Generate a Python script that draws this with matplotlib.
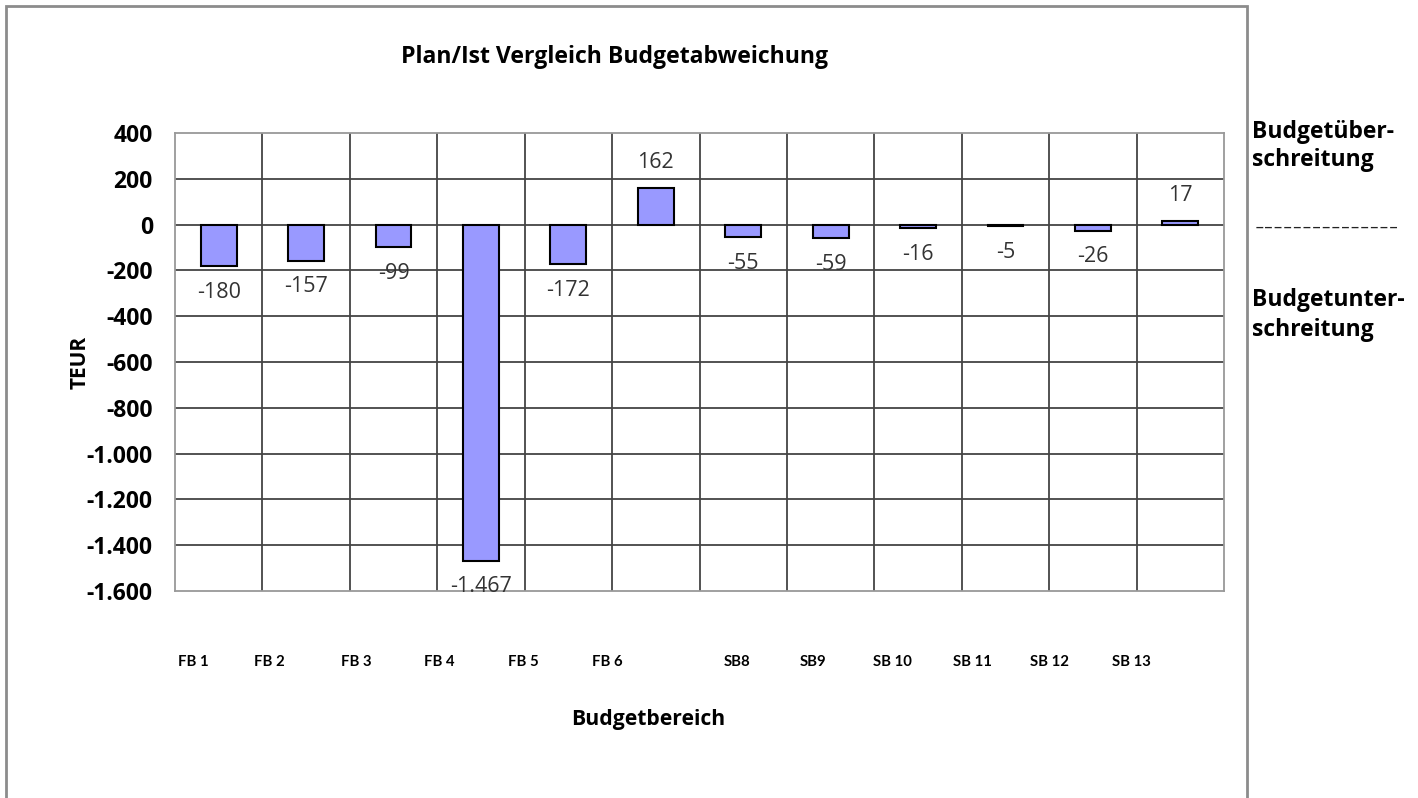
import matplotlib.pyplot as plt
from matplotlib.patches import Rectangle
from matplotlib.ticker import FuncFormatter

categories = ['FB 1', 'FB 2', 'FB 3', 'FB 4', 'FB 5', 'FB 6',
              'SB8', 'SB9', 'SB 10', 'SB 11', 'SB 12', 'SB 13']
values = [-180, -157, -99, -1467, -172, 162, -55, -59, -16, -5, -26, 17]

# x positions (pixels) of the category text boxes, as in the original
label_px = [193, 269, 356, 439, 523, 607, 737, 813, 892, 972, 1049, 1131]

W, H = 1418, 798
plt.rcParams['font.family'] = ['Open Sans', 'DejaVu Sans']

fig = plt.figure(figsize=(W / 100, H / 100), dpi=100)
ax = fig.add_axes([175 / W, 1 - 591 / H, (1224 - 175) / W, (591 - 133) / H])


def fmt(v):
    return '{:,.0f}'.format(v).replace(',', '.')


x = range(len(categories))
ax.bar(x, values, width=0.41, color='#9999ff', edgecolor='black', linewidth=1.5, zorder=3)

for i, v in enumerate(values):
    off = 18 if v > 0 else -19
    ax.annotate(fmt(v), (i, v), xytext=(0, off), textcoords='offset points',
                ha='center', va='center', fontsize=15.5, color='#333333', zorder=4)

ax.set_xlim(-0.5, len(categories) - 0.5)
ax.set_ylim(-1600, 400)
ax.set_yticks(range(-1600, 401, 200))
ax.yaxis.set_major_formatter(FuncFormatter(lambda v, p: fmt(v)))
ax.set_xticks([])
ax.tick_params(axis='y', length=0, pad=16, labelsize=16.5)
for t in ax.get_yticklabels():
    t.set_fontweight('bold')

for yv in range(-1400, 400, 200):
    ax.axhline(yv, color='#444444', lw=1.3, zorder=1)
for xv in [i + 0.5 for i in range(len(categories) - 1)]:
    ax.axvline(xv, color='#444444', lw=1.3, zorder=1)
for s in ax.spines.values():
    s.set_color('#999999')
    s.set_linewidth(1.3)

ax.set_ylabel('TEUR', fontsize=15, fontweight='bold')
ax.yaxis.set_label_coords((91 - 175) / 1049, 0.5)

for lab, px in zip(categories, label_px):
    fig.text(px / W, 1 - 662 / H, lab, ha='center', va='center', fontsize=10.7,
             fontweight='bold', family=['Lato', 'DejaVu Sans'])

fig.text(648 / W, 1 - 720 / H, 'Budgetbereich', ha='center', va='center', fontsize=15.2, fontweight='bold')
fig.text(615 / W, 1 - 57 / H, 'Plan/Ist Vergleich Budgetabweichung', ha='center', va='center',
         fontsize=16.6, fontweight='bold')

# outer chart frame
fig.patches.append(Rectangle((6 / W, -0.05), (1247 - 6) / W, 1.05 - 6 / H, transform=fig.transFigure,
                             fill=False, edgecolor='#8c8c8c', lw=2))

fig.text(1252 / W, 1 - 146 / H, 'Budgetüber-\nschreitung', ha='left', va='center',
         fontsize=16.5, fontweight='bold', linespacing=1.25)
fig.text(1255 / W, 1 - 228 / H, '---------------', ha='left', va='center', fontsize=21.5,
         color='#222222', fontweight='light')
fig.text(1252 / W, 1 - 315 / H, 'Budgetunter-\nschreitung', ha='left', va='center',
         fontsize=16.5, fontweight='bold', linespacing=1.3)

fig.savefig('out.png', dpi=100)
